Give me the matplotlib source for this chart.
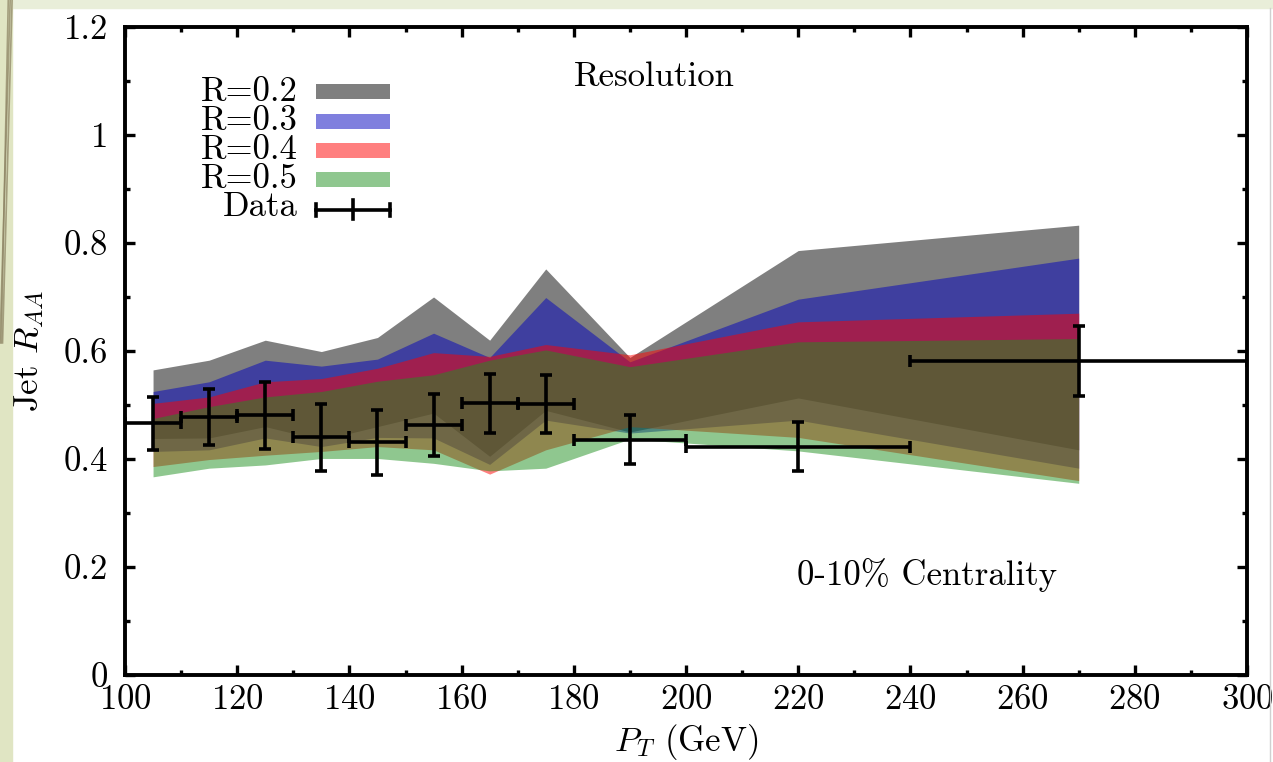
import numpy as np
import matplotlib
matplotlib.use("Agg")
import matplotlib.pyplot as plt
from matplotlib.patches import Rectangle
from matplotlib.lines import Line2D

plt.rcParams['font.family'] = 'cmr10'
plt.rcParams['mathtext.fontset'] = 'cm'
plt.rcParams['axes.formatter.use_mathtext'] = True

# band nodes (GeV)
pt = [105, 115, 125, 135, 145, 155, 165, 175, 190, 220, 270]

# R = 0.2 ... 0.5 : upper / lower edges of each band
r02_hi = [0.565, 0.583, 0.620, 0.599, 0.625, 0.700, 0.620, 0.752, 0.588, 0.786, 0.833]
r02_lo = [0.438, 0.439, 0.460, 0.435, 0.460, 0.485, 0.405, 0.490, 0.450, 0.513, 0.417]
r03_hi = [0.525, 0.543, 0.583, 0.572, 0.585, 0.633, 0.588, 0.699, 0.580, 0.696, 0.772]
r03_lo = [0.414, 0.417, 0.439, 0.423, 0.440, 0.439, 0.390, 0.472, 0.448, 0.472, 0.383]
r04_hi = [0.503, 0.515, 0.543, 0.549, 0.568, 0.597, 0.590, 0.612, 0.593, 0.654, 0.670]
r04_lo = [0.386, 0.399, 0.407, 0.414, 0.423, 0.417, 0.372, 0.417, 0.460, 0.440, 0.360]
r05_hi = [0.475, 0.497, 0.515, 0.525, 0.544, 0.556, 0.583, 0.602, 0.571, 0.617, 0.623]
r05_lo = [0.367, 0.383, 0.389, 0.401, 0.401, 0.392, 0.378, 0.383, 0.437, 0.415, 0.355]

band_labels = ['R=0.2', 'R=0.3', 'R=0.4', 'R=0.5']
band_colors = ['black', (0, 0, 0.75), (1, 0, 0), (0.125, 0.565, 0.125)]

# data points
data_x = [105, 115, 125, 135, 145, 155, 165, 175, 190, 220, 270]
data_y = [0.466, 0.478, 0.481, 0.440, 0.431, 0.463, 0.503, 0.502, 0.436, 0.423, 0.581]
data_xerr = [5, 5, 5, 5, 5, 5, 5, 5, 10, 20, 30]
data_yerr = [0.049, 0.052, 0.062, 0.062, 0.060, 0.057, 0.055, 0.054, 0.045, 0.046, 0.065]

fig = plt.figure(figsize=(12.73, 7.62), dpi=100)
fig.patch.set_facecolor('white')

# slide background bits around the picture
fig.patches.append(Rectangle((0, 1 - 8 / 762), 1, 8 / 762, transform=fig.transFigure,
                             color='#e9eed9', zorder=0))
fig.patches.append(Rectangle((0, 0), 12 / 1273, 1, transform=fig.transFigure,
                             color='#e0e5c3', zorder=0))
for x0, x1 in [(0.0095, 0.002), (0.008, 0.0), (0.0065, 0.001)]:
    fig.lines.append(Line2D([x0, x1], [1.0, 0.55], transform=fig.transFigure,
                            color='#8a8060', lw=1.2, alpha=0.7))
fig.lines.append(Line2D([1270 / 1273] * 2, [0, 1 - 8 / 762], transform=fig.transFigure,
                        color='#d0d0d0', lw=1))

ax = fig.add_axes([125 / 1273, 1 - 675 / 762, 1122 / 1273, 648 / 762])

bands = [(r02_lo, r02_hi), (r03_lo, r03_hi), (r04_lo, r04_hi), (r05_lo, r05_hi)]
for (lo, hi), c in zip(bands, band_colors):
    ax.fill_between(pt, lo, hi, color=c, alpha=0.5, lw=0, zorder=1)

ax.errorbar(data_x, data_y, xerr=data_xerr, yerr=data_yerr, fmt='none',
            ecolor='black', elinewidth=2.6, capsize=4.5, capthick=2.6, zorder=3)

ax.set_xlim(100, 300)
ax.set_ylim(0, 1.2)
ax.set_xticks(np.arange(100, 301, 20))
ax.set_xticks(np.arange(100, 301, 10), minor=True)
ax.set_yticks(np.arange(0, 1.21, 0.2))
ax.set_yticks(np.arange(0, 1.21, 0.1), minor=True)
ax.set_yticklabels(['0', '0.2', '0.4', '0.6', '0.8', '1', '1.2'])
ax.tick_params(which='both', direction='in', top=True, right=True, width=2.4,
               labelsize=25)
ax.tick_params(which='major', length=7.5)
ax.tick_params(which='minor', length=3.5)
ax.tick_params(axis='y', pad=12)
ax.tick_params(axis='x', pad=7)
for s in ax.spines.values():
    s.set_linewidth(2.8)

ax.set_xlabel(r'$P_T$ (GeV)', fontsize=25, labelpad=4)
ax.set_ylabel(r'Jet $R_{AA}$', fontsize=25, labelpad=13)

ax.text(180, 1.107, 'Resolution', fontsize=25, ha='left', va='center')
ax.text(219.8, 0.185, '0-10% Centrality', fontsize=25, ha='left', va='center')

# legend, gnuplot style: labels right-aligned, key sample on the right
rows = [0.900, 0.854, 0.810, 0.765, 0.722]
for lab, c, yy in zip(band_labels, band_colors, rows):
    ax.text(0.154, yy, lab, transform=ax.transAxes, fontsize=25, ha='right',
            va='center')
    ax.add_patch(Rectangle((0.170, yy - 0.0115), 0.066, 0.023, transform=ax.transAxes,
                           color=c, alpha=0.5, lw=0))
yy = rows[-1]
ax.text(0.154, yy, 'Data', transform=ax.transAxes, fontsize=25, ha='right', va='center')
ax.add_line(Line2D([0.170, 0.236], [yy - 0.004] * 2, transform=ax.transAxes,
                   color='black', lw=2.6))
for xc, h in [(0.170, 0.009), (0.236, 0.009), (0.203, 0.015)]:
    ax.add_line(Line2D([xc, xc], [yy - 0.004 - h, yy - 0.004 + h], transform=ax.transAxes,
                       color='black', lw=2.6))

fig.savefig('out.png', dpi=100)
